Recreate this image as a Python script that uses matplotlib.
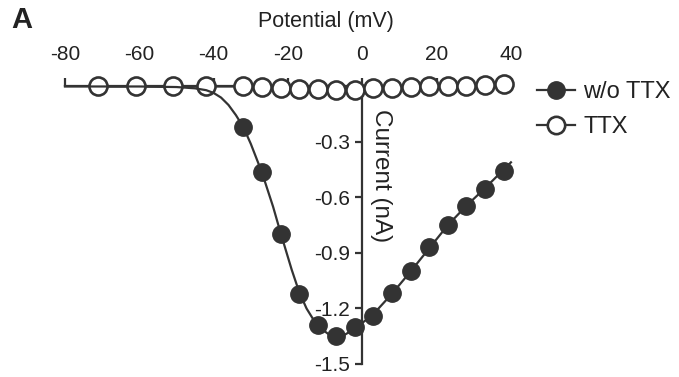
import matplotlib
matplotlib.use("Agg")
import matplotlib.pyplot as plt
from matplotlib.lines import Line2D

plt.rcParams['font.family'] = ['Liberation Sans', 'DejaVu Sans']

DARK = '#333333'
TEXT = '#222222'

# measured points (mV, nA)
v_ctrl = [-32, -27, -22, -17, -12, -7, -2, 3, 8, 13, 18, 23, 28, 33, 38]
i_ctrl = [-0.22, -0.46, -0.80, -1.12, -1.29, -1.35, -1.30, -1.24, -1.115,
          -1.0, -0.87, -0.75, -0.645, -0.555, -0.455]

v_ttx = [-71, -61, -51, -42, -32, -27, -22, -17, -12, -7, -2, 3, 8, 13,
         18, 23, 28, 33, 38]
i_ttx = [0.0, 0.0, 0.0, 0.0, 0.0, -0.005, -0.008, -0.012, -0.016, -0.018,
         -0.018, -0.01, -0.006, -0.002, 0.0, 0.003, 0.005, 0.008, 0.012]

# fitted curve for w/o TTX
v_fit = [-80, -60, -50, -45, -42, -40, -38, -36, -34, -32, -30, -27, -24,
         -22, -19, -17, -15, -13, -11, -9, -7, -5, -2, 3, 8, 13, 18, 23,
         28, 33, 40]
i_fit = [0.0, 0.0, -0.003, -0.01, -0.02, -0.035, -0.06, -0.10, -0.155,
         -0.22, -0.31, -0.465, -0.65, -0.79, -0.99, -1.11, -1.20, -1.265,
         -1.31, -1.34, -1.35, -1.345, -1.31, -1.23, -1.12, -1.0, -0.875,
         -0.75, -0.645, -0.55, -0.41]

x_ticks = [-80, -60, -40, -20, 0, 20, 40]
y_ticks = [-0.3, -0.6, -0.9, -1.2, -1.5]

fig = plt.figure(figsize=(6.79, 3.77), dpi=100)
ax = fig.add_axes([0.0957, 0.0345, 0.6568, 0.7361])

ax.plot(v_ttx, i_ttx, '-o', color=DARK, lw=1.6, ms=13, mew=1.9,
        mfc='white', mec=DARK, clip_on=False, zorder=3)
ax.plot(v_fit, i_fit, '-', color=DARK, lw=1.6, clip_on=False, zorder=4)
ax.plot(v_ctrl, i_ctrl, 'o', color=DARK, ms=12.5, clip_on=False, zorder=5)

ax.set_xlim(-80, 40)
ax.set_ylim(-1.5, 0)

ax.spines['right'].set_visible(False)
ax.spines['bottom'].set_visible(False)
ax.spines['left'].set_position(('data', 0))
for s in ['top', 'left']:
    ax.spines[s].set_linewidth(1.6)
    ax.spines[s].set_color(DARK)
    ax.spines[s].set_zorder(2)

ax.xaxis.tick_top()
ax.set_xticks(x_ticks)
ax.set_xticklabels([str(t) for t in x_ticks])
ax.set_yticks(y_ticks)
ax.set_yticklabels([f'{t:.1f}' for t in y_ticks])
ax.tick_params(axis='both', colors=DARK, labelcolor=TEXT, labelsize=15,
               width=1.6, length=5)
ax.tick_params(axis='x', pad=10, length=6)
ax.tick_params(axis='y', pad=4)

fig.text(326 / 679, 1 - 21 / 377, 'Potential (mV)', ha='center', va='center',
         fontsize=15.5, color=TEXT)
fig.text(381.5 / 679, 1 - 176 / 377, 'Current (nA)', ha='center', va='center',
         rotation=270, fontsize=17.5, color=TEXT)
fig.text(11 / 679, 1 - 20 / 377, 'A', ha='left', va='center',
         fontsize=21, fontweight='bold', color=TEXT)

handles = [
    Line2D([], [], color=DARK, lw=1.6, marker='o', ms=12.5, mfc=DARK, mec=DARK),
    Line2D([], [], color=DARK, lw=1.6, marker='o', ms=12.5, mfc='white',
           mec=DARK, mew=1.9),
]
fig.legend(handles, ['w/o TTX', 'TTX'], loc='upper left',
           bbox_to_anchor=(537 / 679, 1 - 81 / 377), frameon=False,
           fontsize=17, handlelength=1.6, handletextpad=0.35,
           labelspacing=0.55, borderpad=0, borderaxespad=0, labelcolor=TEXT)

fig.savefig('out.png', dpi=100)
